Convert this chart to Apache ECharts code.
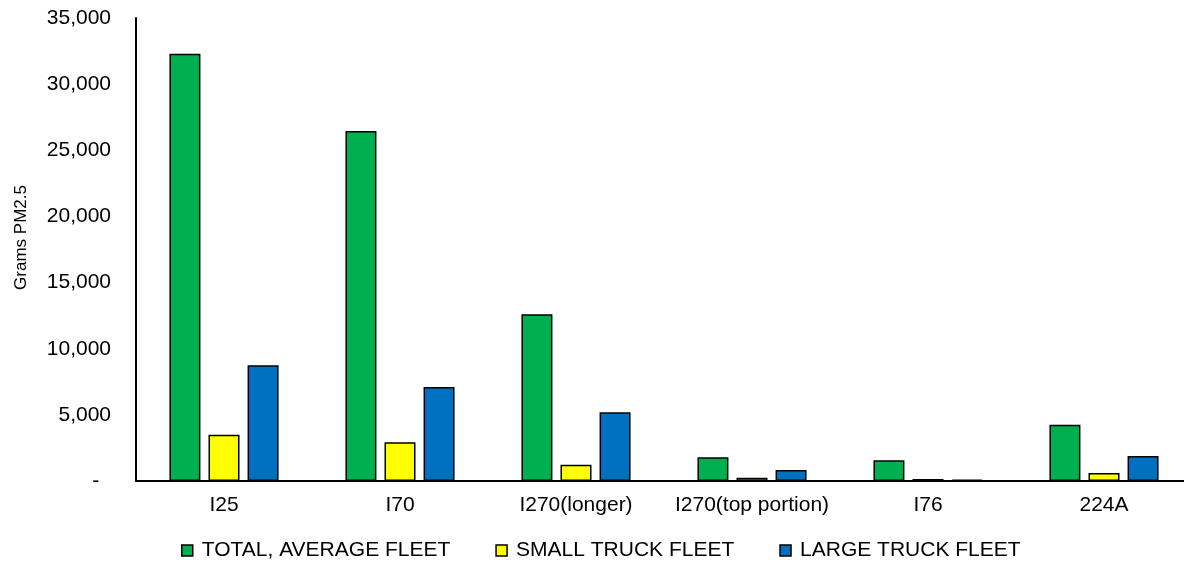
<!DOCTYPE html>
<html>
<head>
<meta charset="utf-8">
<title>Grams PM2.5 by corridor</title>
<script src="https://cdn.jsdelivr.net/npm/echarts@6/dist/echarts.min.js"></script>
<style>
  html, body { margin: 0; padding: 0; background: #fff; }
  #chart { width: 1184px; height: 563px; }
</style>
</head>
<body>
<div id="chart"></div>
<script>
// Corridors along the x axis
const categories = ['I25', 'I70', 'I270(longer)', 'I270(top portion)', 'I76', '224A'];

// Grams of PM2.5 per fleet type
const totalAverageFleet = [32300, 26450, 12600, 1790, 1560, 4250];
const smallTruckFleet   = [3500, 2920, 1230, 250, 150, 600];
const largeTruckFleet   = [8750, 7100, 5190, 830, 100, 1890];

const seriesNames = ['TOTAL, AVERAGE FLEET', 'SMALL TRUCK FLEET', 'LARGE TRUCK FLEET'];
const seriesColors = ['#00B050', '#FFFF00', '#0070C0'];

const yAxisName = 'Grams PM2.5';
const yMax = 35000;
const yStep = 5000;

const font = 'Liberation Sans, Arial, Helvetica, sans-serif';

const chart = echarts.init(document.getElementById('chart'), null, { renderer: 'canvas' });

function barSeries(name, data, color) {
  return {
    name: name,
    type: 'bar',
    data: data,
    barWidth: 31,
    barGap: '26%',
    itemStyle: { color: color, borderColor: '#000', borderWidth: 1.5 }
  };
}

chart.setOption({
  animation: false,
  textStyle: { fontFamily: font },
  grid: { left: 136, top: 18, width: 1056, bottom: 82, containLabel: false, outerBoundsMode: 'none' },
  legend: {
    top: 535,
    left: 176,
    itemGap: 45,
    itemWidth: 11,
    itemHeight: 11,
    icon: 'rect',
    textStyle: { fontSize: 21, color: '#000', fontFamily: font, padding: [0, 0, 0, 4] },
    data: seriesNames.map(function (n) { return { name: n, itemStyle: { borderColor: '#000', borderWidth: 1.5 } }; })
  },
  xAxis: {
    type: 'category',
    data: categories,
    axisLine: { lineStyle: { color: '#000', width: 2 } },
    axisTick: { show: false },
    axisLabel: { fontSize: 21, color: '#000', margin: 14, interval: 0 }
  },
  yAxis: {
    type: 'value',
    min: 0,
    max: yMax,
    interval: yStep,
    name: yAxisName,
    nameLocation: 'middle',
    nameGap: 106,
    nameTextStyle: { fontSize: 17, color: '#000', padding: [0, 0, 0, 24] },
    splitLine: { show: false },
    axisLine: { show: true, lineStyle: { color: '#000', width: 2 } },
    axisTick: { show: false },
    axisLabel: {
      fontSize: 21,
      color: '#000',
      margin: 25,
      formatter: function (v) { return v === 0 ? '-  ' : v.toLocaleString('en-US'); }
    }
  },
  series: [
    barSeries(seriesNames[0], totalAverageFleet, seriesColors[0]),
    barSeries(seriesNames[1], smallTruckFleet, seriesColors[1]),
    barSeries(seriesNames[2], largeTruckFleet, seriesColors[2])
  ]
});
</script>
</body>
</html>
